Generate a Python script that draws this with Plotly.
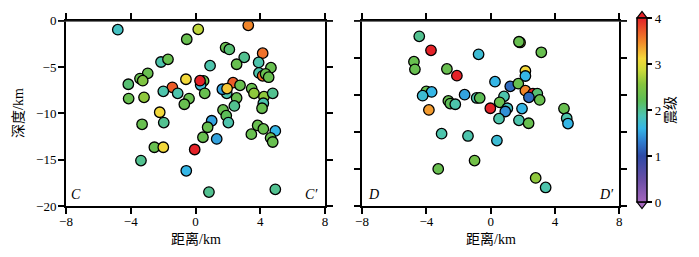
import plotly.graph_objects as go

W, H = 699, 257

# ---- data: C-C' profile ----
dist_c = [-4.80, 0.17, 3.26, -0.54, 1.86, 2.09, 4.15, -2.13, -1.70, 3.01, 0.90, 2.54, 3.90, 4.66, 3.92,
          4.15, 4.33, 4.52, -2.95, -3.43, -3.26, -4.15, -0.59, 0.50, 0.32, 0.28, 2.32, 2.75, -1.43, -1.99,
          -1.10, 0.57, 1.93, 1.66, 1.95, 3.47, 3.61, 4.23, 4.77, -4.13, -3.18, -0.40, -0.69, 2.54, 2.40,
          4.19, 4.11, -2.21, 1.70, 1.90, -3.30, -1.96, 1.00, 2.03, 0.75, 3.84, 4.19, 4.93, 0.46, 1.31,
          3.45, 4.64, 4.77, -2.54, -1.99, -0.05, -3.37, -0.57, 0.83, 4.93]
depth_c = [-0.97, -0.93, -0.50, -2.00, -2.90, -3.10, -3.50, -4.46, -4.17, -3.95, -4.85, -4.70, -4.50, -5.07, -5.64,
           -5.95, -5.75, -6.10, -5.68, -6.25, -6.47, -6.86, -6.32, -6.50, -6.94, -6.47, -6.69, -6.97, -7.19, -7.62,
           -7.84, -7.84, -7.84, -7.40, -7.33, -7.33, -7.84, -8.20, -7.84, -8.41, -8.27, -8.41, -9.02, -8.34, -9.20,
           -8.91, -9.45, -9.88, -9.63, -10.25, -11.18, -11.00, -10.80, -11.00, -11.50, -11.30, -11.68, -11.90, -12.58, -12.76,
           -12.25, -12.65, -13.09, -13.66, -13.66, -13.90, -15.10, -16.20, -18.50, -18.20]
mag_c = [1.8, 2.8, 3.5, 2.3, 2.3, 2.1, 3.6, 1.9, 2.3, 2.0, 1.9, 2.3, 1.9, 2.3, 1.9,
         3.6, 2.3, 2.3, 2.3, 2.3, 2.5, 2.1, 3.1, 2.3, 1.7, 4.0, 3.7, 2.3, 3.7, 1.9,
         1.9, 2.3, 1.9, 1.5, 3.2, 2.3, 2.6, 2.6, 2.0, 2.3, 2.6, 2.3, 2.3, 2.3, 2.0,
         1.9, 2.3, 3.1, 2.3, 2.2, 2.3, 2.0, 1.5, 1.9, 2.3, 2.3, 2.3, 1.6, 2.3, 1.5,
         2.3, 2.3, 2.3, 2.3, 3.1, 4.0, 2.0, 1.6, 2.0, 2.0]

# ---- data: D-D' profile ----
dist_d = [-4.44, -3.71, -0.75, -4.77, -4.71, -2.72, -2.10, -4.00, -3.67, -4.23, -1.62, -2.63, -2.51, -2.20,
          -0.87, -0.68, -3.84, -0.02, 0.27, 1.83, 1.76, 3.15, 2.16, 2.16, 1.22, 1.72, 2.16, 2.63, 2.90,
          2.38, 3.05, 0.83, 0.56, 1.04, 0.91, 1.95, 4.56, 4.73, 4.81, 0.52, 1.76, 2.36, -3.05, -1.41,
          0.39, -1.00, -3.26, 2.80, 3.42]
depth_d = [-1.69, -3.20, -3.63, -4.42, -5.25, -5.21, -5.93, -7.62, -7.69, -8.09, -7.98, -8.66, -8.95, -9.02,
           -8.34, -8.34, -9.63, -9.45, -6.58, -2.35, -2.27, -3.41, -5.43, -5.97, -7.08, -6.80, -7.55, -7.87, -7.87,
           -8.27, -8.55, -8.16, -8.81, -9.45, -9.80, -9.49, -9.49, -10.53, -11.10, -10.57, -10.75, -11.07, -12.19, -12.44,
           -12.94, -15.10, -16.00, -16.97, -18.00]
mag_d = [2.0, 4.0, 1.7, 2.3, 2.3, 2.3, 4.0, 2.3, 1.6, 1.7, 1.5, 2.3, 2.2, 1.9,
         1.9, 2.2, 3.4, 4.0, 1.6, 3.0, 2.3, 2.3, 3.1, 1.6, 1.2, 2.3, 3.5, 4.0, 2.1,
         1.2, 2.3, 1.9, 2.3, 1.8, 1.4, 1.6, 2.3, 1.9, 1.6, 1.9, 1.9, 2.3, 1.9, 1.9,
         1.7, 2.4, 2.3, 2.6, 1.9]

x_ticks = [-8, -4, 0, 4, 8]
y_ticks_left = [0, -5, -10, -15, -20]
y_ticks_right = [0, -4, -8, -12, -16, -20]
cbar_ticks = [0, 1, 2, 3, 4]

colorscale = [
    [0.00, "#a466bd"],
    [0.12, "#6a4fa6"],
    [0.25, "#2e4aa6"],
    [0.33, "#2f7fd0"],
    [0.40, "#35b6e6"],
    [0.47, "#4cc4b2"],
    [0.55, "#5cbd57"],
    [0.64, "#86c53e"],
    [0.72, "#cfdb3a"],
    [0.78, "#f5d83a"],
    [0.87, "#f2892a"],
    [1.00, "#e42228"],
]

SERIF = "Liberation Serif, Noto Sans CJK SC, serif"
FONT = dict(family=SERIF, size=13, color="black")

def px_x(p):
    return p / W

def px_y(p):
    return 1 - p / H

fig = go.Figure()

marker_common = dict(size=10.5, cmin=0, cmax=4, colorscale=colorscale,
                     line=dict(color="black", width=1.3))

fig.add_trace(go.Scatter(x=dist_c, y=depth_c, mode="markers", xaxis="x", yaxis="y",
                         marker=dict(color=mag_c, showscale=False, **marker_common),
                         showlegend=False))
fig.add_trace(go.Scatter(x=dist_d, y=depth_d, mode="markers", xaxis="x2", yaxis="y2",
                         marker=dict(color=mag_d, showscale=True,
                                     colorbar=dict(
                                         x=px_x(637), xanchor="left", xpad=0,
                                         y=px_y(202), yanchor="bottom", ypad=0,
                                         len=(202 - 18) / H, lenmode="fraction",
                                         thickness=10, thicknessmode="pixels",
                                         outlinecolor="black", outlinewidth=1.5,
                                         tickvals=cbar_ticks, ticks="outside", ticklen=5,
                                         tickwidth=1.5, tickcolor="black",
                                         tickfont=FONT,
                                         title=dict(text="震级", side="right",
                                                    font=dict(family=SERIF, size=14,
                                                              color="black")),
                                     ),
                                     **marker_common),
                         showlegend=False))

axis_common = dict(showline=True, linecolor="black", linewidth=2, mirror="ticks",
                   ticks="outside", ticklen=6, tickwidth=2, tickcolor="black",
                   showgrid=False, zeroline=False, tickfont=FONT, automargin=False)

fig.update_layout(
    width=W, height=H,
    margin=dict(l=0, r=0, t=0, b=0, pad=0, autoexpand=False),
    paper_bgcolor="white", plot_bgcolor="white",
    xaxis=dict(domain=[px_x(66), px_x(325)], range=[-8, 8], tickvals=x_ticks,
               anchor="y", ticklabelstandoff=-4, **axis_common),
    yaxis=dict(domain=[px_y(206), px_y(20.7)], range=[-20, 0], tickvals=y_ticks_left,
               anchor="x", ticklabelstandoff=-1, **axis_common),
    xaxis2=dict(domain=[px_x(362), px_x(619.3)], range=[-8, 8], tickvals=x_ticks,
                anchor="y2", ticklabelstandoff=-4, **axis_common),
    yaxis2=dict(domain=[px_y(206), px_y(20.7)], range=[-20, 0], tickvals=y_ticks_right,
                showticklabels=False, anchor="x2", **axis_common),
)

# extended top lines at depth 0
fig.add_shape(type="line", xref="paper", yref="y", x0=px_x(58), x1=px_x(333), y0=0, y1=0,
              line=dict(color="#444", width=2))
fig.add_shape(type="line", xref="paper", yref="y2", x0=px_x(354), x1=px_x(627), y0=0, y1=0,
              line=dict(color="#444", width=2))

# colorbar extension triangles
def tri(points, color):
    path = "M " + " L ".join(f"{px_x(a)},{px_y(b)}" for a, b in points) + " Z"
    fig.add_shape(type="path", xref="paper", yref="paper", path=path,
                  fillcolor=color, line=dict(color="black", width=1.2))

tri([(637, 18), (647, 18), (642, 11.5)], "#e42228")
tri([(637, 202), (647, 202), (642, 208.5)], "#a466bd")

# corner labels
corner = dict(showarrow=False, font=dict(family=SERIF, size=14, color="black"))
fig.add_annotation(x=-7.4, y=-18.8, xref="x", yref="y", text="<i>C</i>", **corner)
fig.add_annotation(x=7.15, y=-18.8, xref="x", yref="y", text="<i>C′</i>", **corner)
fig.add_annotation(x=-7.3, y=-18.8, xref="x2", yref="y2", text="<i>D</i>", **corner)
fig.add_annotation(x=7.2, y=-18.8, xref="x2", yref="y2", text="<i>D′</i>", **corner)

# axis titles
title_font = dict(family=SERIF, size=14, color="black")
title_common = dict(xref="paper", yref="paper", showarrow=False, font=title_font,
                    xanchor="center", yanchor="middle")
fig.add_annotation(x=px_x(195.5), y=px_y(239), text="距离/km", **title_common)
fig.add_annotation(x=px_x(491), y=px_y(239), text="距离/km", **title_common)
fig.add_annotation(x=px_x(18), y=px_y(113), text="深度/km", textangle=-90, **title_common)

fig.write_html("out.html")
